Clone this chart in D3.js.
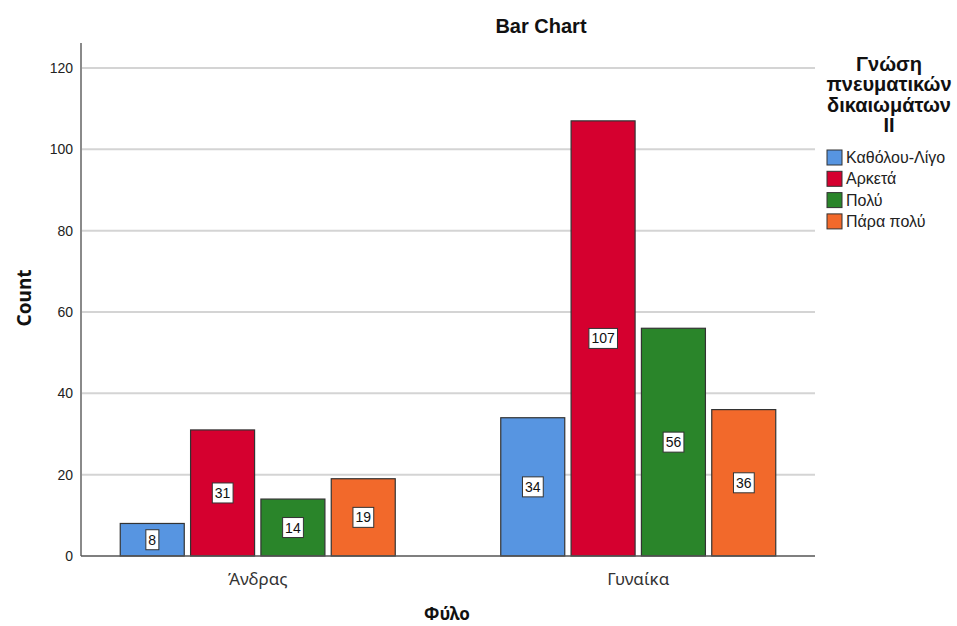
<!DOCTYPE html>
<html><head><meta charset="utf-8">
<script src="https://cdn.jsdelivr.net/npm/d3@7"></script>
<style>body{margin:0;background:#fff}</style>
</head><body>
<svg id="c" width="957" height="626"></svg>
<script>
const groups = ["Άνδρας", "Γυναίκα"];
const series = ["Καθόλου-Λίγο", "Αρκετά", "Πολύ", "Πάρα πολύ"];
const values = {
  "Άνδρας": [8, 31, 14, 19],
  "Γυναίκα": [34, 107, 56, 36]
};
const colors = ["#5795e1", "#d5002f", "#2a852a", "#f2692b"];
const yTicks = [0, 20, 40, 60, 80, 100, 120];
const legendTitle = ["Γνώση", "πνευματικών", "δικαιωμάτων", "II"];

const svg = d3.select("#c");
const L = 81, R = 815, T = 43, B = 556;
const y = d3.scaleLinear().domain([0, 120]).range([B, 68]);
const x0 = d3.scalePoint().domain(groups).range([L, R]).padding(0.4645);
const x1 = d3.scaleBand().domain(series).range([-137.5, 137.5]).paddingInner(0.09);

// gridlines
svg.append("g").selectAll("line").data(yTicks.filter(d => d > 0)).join("line")
  .attr("x1", L).attr("x2", R).attr("y1", d => y(d)).attr("y2", d => y(d))
  .attr("stroke", "#d4d4d4").attr("stroke-width", 2);

// y axis
const yAxis = d3.axisLeft(y).tickValues(yTicks).tickSize(0).tickPadding(8);
const ga = svg.append("g").attr("transform", `translate(${L},0)`).call(yAxis);
ga.select(".domain").remove();
ga.selectAll("text").attr("font-family", "Liberation Sans, Arial").attr("font-size", 14).attr("fill", "#222");
svg.append("line").attr("x1", L).attr("x2", L).attr("y1", T).attr("y2", B)
  .attr("stroke", "#8a8a8a").attr("stroke-width", 2);

// bars
const gg = svg.append("g").selectAll("g").data(groups).join("g")
  .attr("transform", d => `translate(${x0(d)},0)`);
gg.selectAll("rect").data(g => values[g].map((v, i) => ({v, i, s: series[i]}))).join("rect")
  .attr("x", d => x1(d.s)).attr("width", x1.bandwidth())
  .attr("y", d => y(d.v)).attr("height", d => B - y(d.v))
  .attr("fill", d => colors[d.i]).attr("stroke", "#333").attr("stroke-width", 1.2);

// x axis line
svg.append("line").attr("x1", L).attr("x2", R).attr("y1", B).attr("y2", B)
  .attr("stroke", "#555").attr("stroke-width", 1.5);

// value labels
gg.each(function(g) {
  const sel = d3.select(this);
  values[g].forEach((v, i) => {
    const cx = x1(series[i]) + x1.bandwidth() / 2;
    const cy = y(v / 2);
    const t = sel.append("text").attr("x", cx).attr("y", cy + 5)
      .attr("text-anchor", "middle").attr("font-family", "Liberation Sans, Arial")
      .attr("font-size", 14).attr("fill", "#111").text(v);
    const bb = t.node().getBBox();
    sel.insert("rect", () => t.node())
      .attr("x", bb.x - 2.5).attr("y", cy - 10).attr("width", bb.width + 5).attr("height", 20)
      .attr("fill", "#fff").attr("stroke", "#333").attr("stroke-width", 1);
  });
});

// category labels
svg.append("g").selectAll("text").data(groups).join("text")
  .attr("x", d => x0(d)).attr("y", 585).attr("text-anchor", "middle")
  .attr("font-family", "Noto Sans, Open Sans").attr("font-size", 17).attr("fill", "#333").text(d => d);

// title & axis titles
svg.append("text").attr("x", 541).attr("y", 33).attr("text-anchor", "middle")
  .attr("font-family", "Liberation Sans, Arial").attr("font-weight", "bold").attr("font-size", 20)
  .attr("fill", "#111").text("Bar Chart");
svg.append("text").attr("transform", "translate(31,298) rotate(-90)").attr("text-anchor", "middle")
  .attr("font-family", "Noto Sans, Open Sans").attr("font-weight", "bold").attr("font-size", 19)
  .attr("fill", "#111").text("Count");
svg.append("text").attr("x", 447).attr("y", 620).attr("text-anchor", "middle")
  .attr("font-family", "Noto Sans, Open Sans").attr("font-weight", "bold").attr("font-size", 17)
  .attr("fill", "#111").text("Φύλο");

// legend
const lg = svg.append("g");
lg.selectAll("text.t").data(legendTitle).join("text").attr("class", "t")
  .attr("x", 889).attr("y", (d, i) => 71 + i * 20.3).attr("text-anchor", "middle")
  .attr("font-family", "Liberation Sans, Arial").attr("font-weight", "bold").attr("font-size", 20)
  .attr("fill", "#111").text(d => d);
const li = lg.selectAll("g.i").data(series).join("g").attr("class", "i")
  .attr("transform", (d, i) => `translate(827,${150 + i * 21.3})`);
li.append("rect").attr("width", 15).attr("height", 15).attr("fill", (d, i) => colors[i])
  .attr("stroke", "#333").attr("stroke-width", 1);
li.append("text").attr("x", 19).attr("y", 13).attr("font-family", "Liberation Sans, Arial")
  .attr("font-size", 16).attr("fill", "#222").text(d => d);
</script>
</body></html>
